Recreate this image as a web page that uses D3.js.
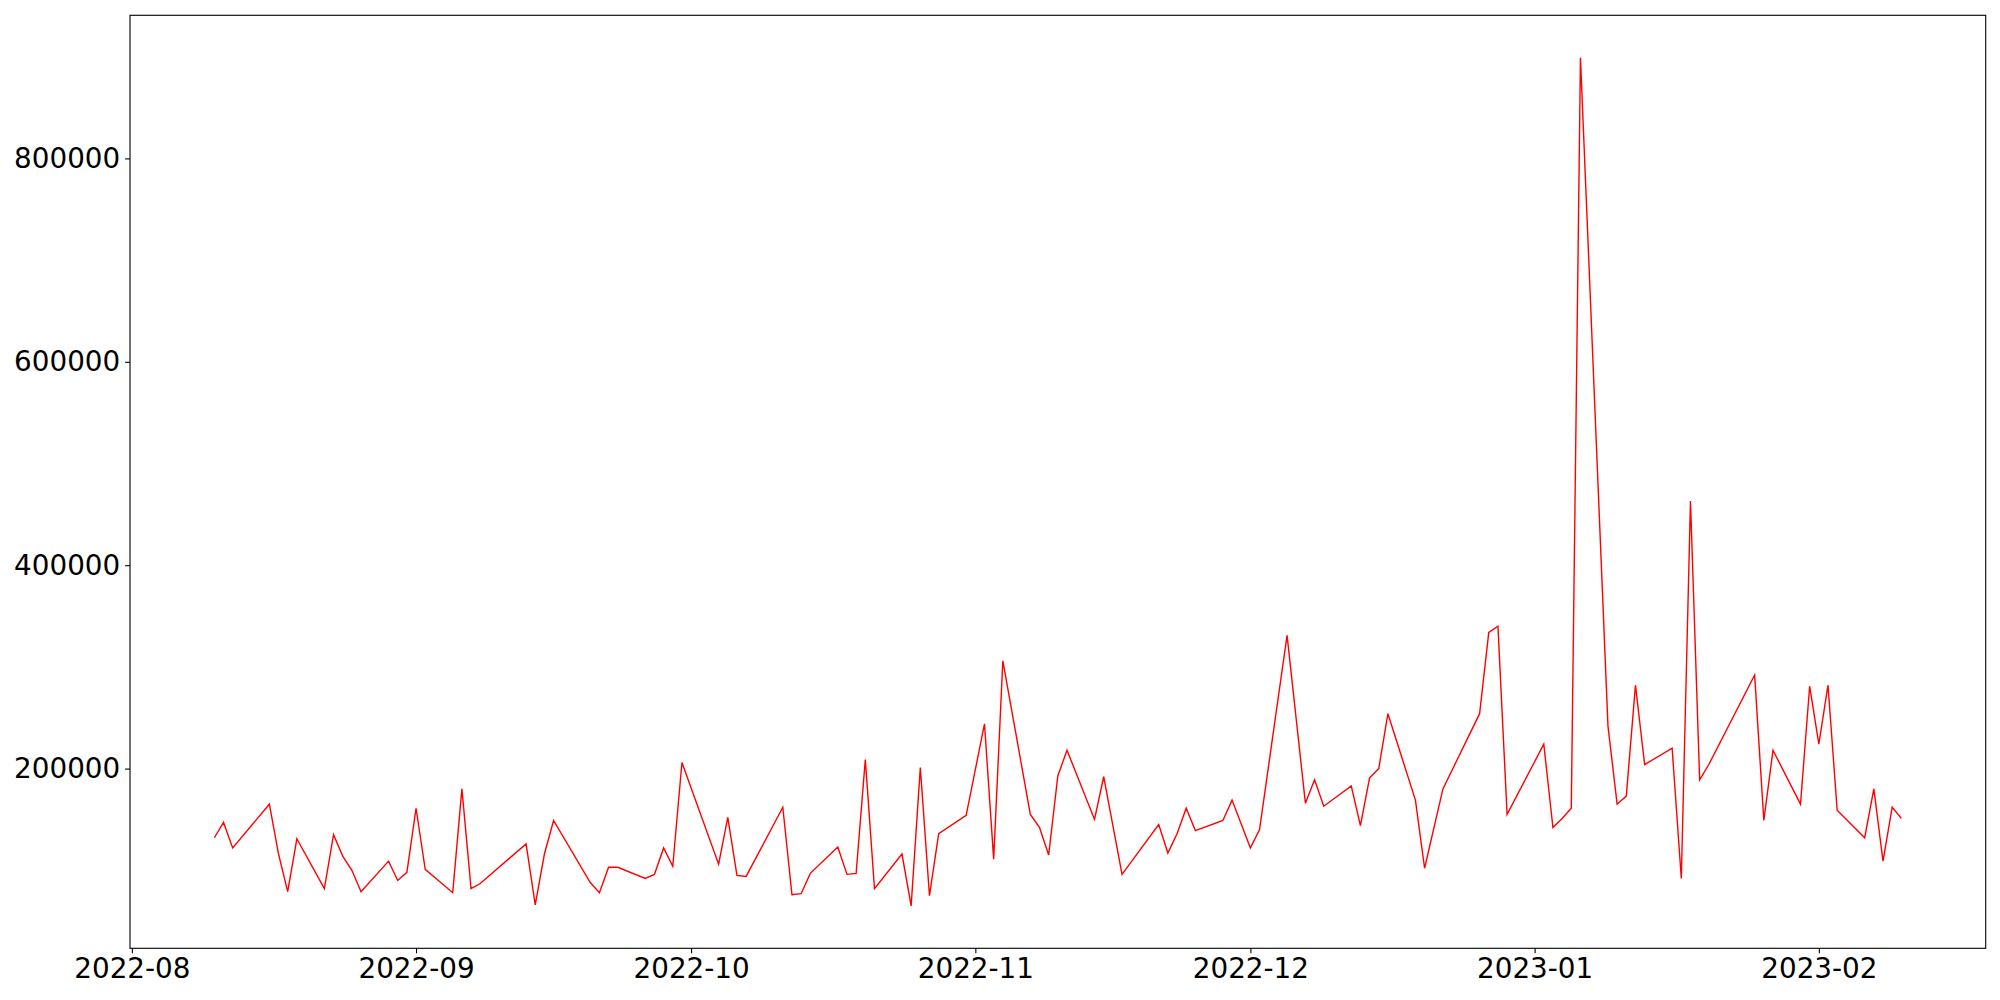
<!DOCTYPE html>
<meta charset="utf-8">
<style>
  body { margin: 0; background: white; }
  .axis text { font-family: "DejaVu Sans", sans-serif; font-size: 27.8px; fill: black; }
  .axis line { stroke: black; stroke-width: 1.1px; }
  .axis path { display: none; }
</style>
<svg width="2000" height="1000"></svg>
<script src="https://d3js.org/d3.v7.min.js"></script>
<script>

var dates = [
  "2022-08-10","2022-08-11","2022-08-12","2022-08-16","2022-08-17","2022-08-18","2022-08-19",
  "2022-08-22","2022-08-23","2022-08-24","2022-08-25","2022-08-26","2022-08-29","2022-08-30",
  "2022-08-31","2022-09-01","2022-09-02","2022-09-05","2022-09-06","2022-09-07","2022-09-08",
  "2022-09-13","2022-09-14","2022-09-15","2022-09-16","2022-09-20","2022-09-21","2022-09-22",
  "2022-09-23","2022-09-26","2022-09-27","2022-09-28","2022-09-29","2022-09-30","2022-10-04",
  "2022-10-05","2022-10-06","2022-10-07","2022-10-11","2022-10-12","2022-10-13","2022-10-14",
  "2022-10-17","2022-10-18","2022-10-19","2022-10-20","2022-10-21","2022-10-24","2022-10-25",
  "2022-10-26","2022-10-27","2022-10-28","2022-10-31","2022-11-02","2022-11-03","2022-11-04",
  "2022-11-07","2022-11-08","2022-11-09","2022-11-10","2022-11-11","2022-11-14","2022-11-15",
  "2022-11-17","2022-11-21","2022-11-22","2022-11-23","2022-11-24","2022-11-25","2022-11-28",
  "2022-11-29","2022-12-01","2022-12-02","2022-12-05","2022-12-07","2022-12-08","2022-12-09",
  "2022-12-12","2022-12-13","2022-12-14","2022-12-15","2022-12-16","2022-12-19","2022-12-20",
  "2022-12-22","2022-12-26","2022-12-27","2022-12-28","2022-12-29","2023-01-02","2023-01-03",
  "2023-01-04","2023-01-05","2023-01-06","2023-01-09","2023-01-10","2023-01-11","2023-01-12",
  "2023-01-13","2023-01-16","2023-01-17","2023-01-18","2023-01-19","2023-01-20","2023-01-25",
  "2023-01-26","2023-01-27","2023-01-30","2023-01-31","2023-02-01","2023-02-02","2023-02-03",
  "2023-02-06","2023-02-07","2023-02-08","2023-02-09","2023-02-10"
];

var values = [
  132000,147000,122000,165000,116000,79000,131000,
  82000,135000,114000,100000,79000,109000,90000,
  98000,161000,101000,78000,180000,82000,87000,
  126000,66000,116000,149000,88000,78000,103000,
  103000,92000,96000,122000,104000,206000,106000,
  152000,95000,94000,162000,76000,77000,97000,
  123000,96000,97000,209000,82000,116000,65000,
  201000,75000,136000,154000,244000,111000,306000,
  155000,142000,115000,193000,218000,150000,192000,
  96000,145000,117000,136000,161000,139000,149000,
  169000,122000,140000,331000,166000,189000,163000,
  183000,144000,191000,200000,254000,169000,102000,
  180000,254000,334000,340000,155000,224000,142000,
  151000,161000,899000,242000,165000,173000,282000,
  204000,220000,92000,463000,189000,204000,292000,
  149000,218000,165000,281000,224000,282000,159000,
  132000,180000,109000,162000,151000
];

var yTicks = [200000, 400000, 600000, 800000];

var svg = d3.select("svg"),
    margin = {top: 15.3, right: 14.3, bottom: 51.7, left: 130},
    width = +svg.attr("width") - margin.left - margin.right,
    height = +svg.attr("height") - margin.top - margin.bottom;

var parse = d3.utcParse("%Y-%m-%d");
var data = dates.map(function(d, i) { return {date: parse(d), value: values[i]}; });

// matplotlib style 5% margins
var xExt = d3.extent(data, function(d) { return d.date; }),
    xPad = (xExt[1] - xExt[0]) * 0.05,
    yExt = d3.extent(data, function(d) { return d.value; }),
    yPad = (yExt[1] - yExt[0]) * 0.05;

var x = d3.scaleUtc()
    .domain([new Date(+xExt[0] - xPad), new Date(+xExt[1] + xPad)])
    .range([0, width]);
var y = d3.scaleLinear()
    .domain([yExt[0] - yPad, yExt[1] + yPad])
    .range([height, 0]);

var g = svg.append("g")
    .attr("transform", "translate(" + margin.left + "," + margin.top + ")");

g.append("path")
    .datum(data)
    .attr("fill", "none")
    .attr("stroke", "red")
    .attr("stroke-width", 1.4)
    .attr("stroke-linejoin", "miter")
    .attr("d", d3.line()
      .x(function(d) { return x(d.date); })
      .y(function(d) { return y(d.value); }));

g.append("g")
    .attr("class", "axis axis--x")
    .attr("transform", "translate(0," + height + ")")
    .call(d3.axisBottom(x)
      .ticks(d3.utcMonth.every(1))
      .tickFormat(d3.utcFormat("%Y-%m"))
      .tickSize(4.9)
      .tickPadding(4.9));

g.append("g")
    .attr("class", "axis axis--y")
    .call(d3.axisLeft(y)
      .tickValues(yTicks)
      .tickFormat(d3.format("d"))
      .tickSize(4.9)
      .tickPadding(4.9));

g.append("rect")
    .attr("width", width)
    .attr("height", height)
    .attr("fill", "none")
    .attr("stroke", "black")
    .attr("stroke-width", 1.1);

</script>
